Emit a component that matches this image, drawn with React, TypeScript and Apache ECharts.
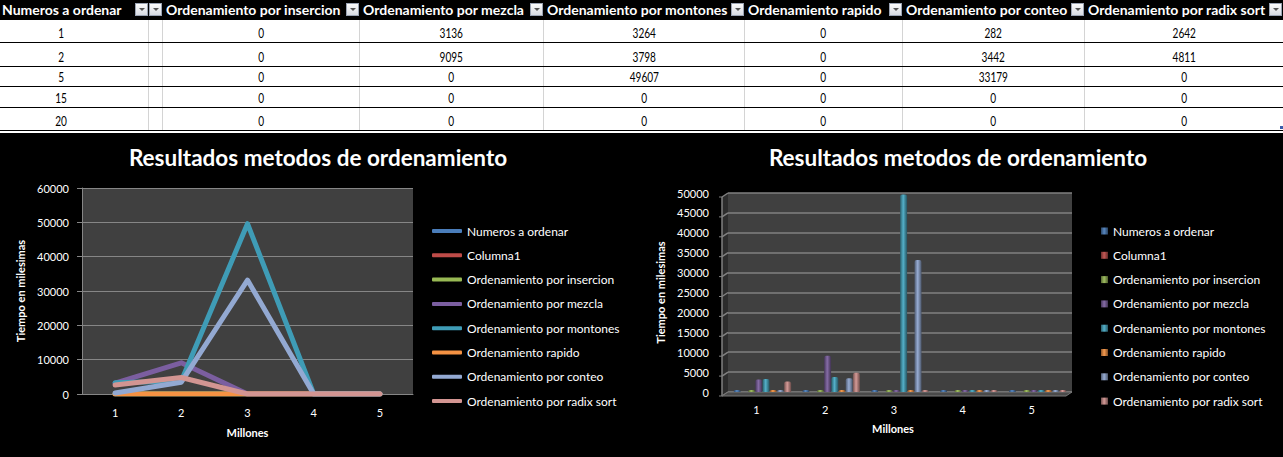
import React, { useEffect, useRef } from 'react';
import * as echarts from 'echarts';

// ---------- data ----------
const xLabels = ['1', '2', '3', '4', '5'];
const numerosAOrdenar = [1, 2, 5, 15, 20];
const columna1: (number | null)[] = [null, null, null, null, null];
const porInsercion = [0, 0, 0, 0, 0];
const porMezcla = [3136, 9095, 0, 0, 0];
const porMontones = [3264, 3798, 49607, 0, 0];
const rapido = [0, 0, 0, 0, 0];
const porConteo = [282, 3442, 33179, 0, 0];
const porRadix = [2642, 4811, 0, 0, 0];

const seriesNames = [
  'Numeros a ordenar',
  'Columna1',
  'Ordenamiento por insercion',
  'Ordenamiento por mezcla',
  'Ordenamiento por montones',
  'Ordenamiento rapido',
  'Ordenamiento por conteo',
  'Ordenamiento por radix sort',
];
const seriesData = [numerosAOrdenar, columna1, porInsercion, porMezcla, porMontones, rapido, porConteo, porRadix];

const tableHeaders = [
  'Numeros a ordenar',
  '',
  'Ordenamiento por insercion',
  'Ordenamiento por mezcla',
  'Ordenamiento por montones',
  'Ordenamiento rapido',
  'Ordenamiento por conteo',
  'Ordenamiento por radix sort',
];
const tableColumns: (number | null)[][] = [numerosAOrdenar, columna1, porInsercion, porMezcla, porMontones, rapido, porConteo, porRadix];

const chartTitle = 'Resultados metodos de ordenamiento';
const xAxisName = 'Millones';
const yAxisName = 'Tiempo en milesimas';
const lineAxisMax = 60000;
const lineAxisStep = 10000;
const barAxisMax = 50000;
const barAxisStep = 5000;

// ---------- styles ----------
const palette = ['#4F81BD', '#C0504D', '#9BBB59', '#8064A2', '#4BACC6', '#F79646', '#93A9D2', '#D39592'];
const linePalette = ['#4A7DBA', '#BE4B48', '#98B954', '#7B5EA0', '#3F9CB6', '#F59243', '#93A9D2', '#D39592'];
const colWidths = [149, 14, 197, 184, 201, 158, 182, 198];
const rowHeights = [22, 23, 19, 20, 22];
const FONT = 'Lato, "Open Sans", "DejaVu Sans", sans-serif';

function shade(hex: string, f: number): string {
  const n = parseInt(hex.slice(1), 16);
  let r = (n >> 16) & 255, g = (n >> 8) & 255, b = n & 255;
  const t = (c: number) => Math.round(f < 0 ? c * (1 + f) : c + (255 - c) * f);
  r = t(r); g = t(g); b = t(b);
  return '#' + [r, g, b].map((c) => c.toString(16).padStart(2, '0')).join('');
}

function barGradient(c: string) {
  return new echarts.graphic.LinearGradient(0, 0, 1, 0, [
    { offset: 0, color: shade(c, -0.45) },
    { offset: 0.45, color: shade(c, 0.05) },
    { offset: 1, color: shade(c, -0.5) },
  ]);
}

const white = '#ffffff';
const axisGray = '#868686';
const plainNumber = (v: number) => String(v);

function commonText(size: number, bold = false) {
  return { color: white, fontSize: size, fontWeight: bold ? 'bold' : 'normal', fontFamily: FONT } as any;
}

function lineOption(): any {
  return {
    animation: false,
    backgroundColor: '#000',
    textStyle: { fontFamily: FONT },
    title: { text: chartTitle, left: 318, top: 13, padding: 0, textAlign: 'center', textStyle: commonText(22.5, true) },
    legend: {
      orient: 'vertical', left: 432, top: 91, padding: 0, itemWidth: 30, itemHeight: 4, itemGap: 10.3,
      icon: 'roundRect', textStyle: { ...commonText(12), lineHeight: 14 }, data: seriesNames,
      selectedMode: false,
    },
    grid: { left: 82, top: 55, width: 331, height: 206, show: true, backgroundColor: '#404040', borderWidth: 0 },
    xAxis: {
      type: 'category', data: xLabels, boundaryGap: true,
      axisLine: { lineStyle: { color: axisGray } }, axisTick: { show: false },
      axisLabel: { ...commonText(11), margin: 13 },
      name: xAxisName, nameLocation: 'middle', nameGap: 33, nameTextStyle: commonText(11, true),
    },
    yAxis: {
      type: 'value', min: 0, max: lineAxisMax, interval: lineAxisStep,
      axisLine: { show: true, lineStyle: { color: axisGray } },
      axisTick: { show: true, length: 5, lineStyle: { color: axisGray } },
      splitLine: { lineStyle: { color: axisGray } },
      axisLabel: { ...commonText(11), margin: 13, formatter: plainNumber },
      name: yAxisName, nameLocation: 'middle', nameGap: 37, nameTextStyle: commonText(11, true),
    },
    series: seriesNames.map((n, i) => ({
      type: 'line', name: n, data: seriesData[i], symbol: 'none', showSymbol: false,
      lineStyle: { width: 5, color: linePalette[i], cap: 'round', join: 'round' },
      itemStyle: { color: linePalette[i] },
    })),
  };
}

const BL = 88, BR = 432, DX = 6, DY = 4;

function barOption(): any {
  return {
    animation: false,
    backgroundColor: '#000',
    textStyle: { fontFamily: FONT },
    title: { text: chartTitle, left: 318, top: 13, padding: 0, textAlign: 'center', textStyle: commonText(22.5, true) },
    legend: {
      orient: 'vertical', left: 461, top: 91, padding: 0, itemWidth: 7, itemHeight: 7, itemGap: 10.3,
      icon: 'rect', textStyle: { ...commonText(12), lineHeight: 14 }, data: seriesNames,
      selectedMode: false,
    },
    grid: { left: BL, top: 60, width: BR - BL, height: 199, show: true, backgroundColor: '#404040', borderWidth: 0 },
    xAxis: {
      type: 'category', data: xLabels, boundaryGap: true,
      axisLine: { show: false }, axisTick: { show: false },
      axisLabel: { ...commonText(11), margin: 12, padding: [0, 12, 0, 0] },
      name: xAxisName, nameLocation: 'middle', nameGap: 31,
      nameTextStyle: { ...commonText(11, true), padding: [0, 14, 0, 0] },
    },
    yAxis: {
      type: 'value', min: 0, max: barAxisMax, interval: barAxisStep,
      axisLine: { show: false }, axisTick: { show: false },
      splitLine: { lineStyle: { color: '#808080', width: 1.5 } },
      axisLabel: { ...commonText(11), margin: 19, padding: [8, 0, 0, 0], formatter: plainNumber },
      name: yAxisName, nameLocation: 'middle', nameGap: 44, nameTextStyle: commonText(11, true),
    },
    series: seriesNames.map((n, i) => ({
      type: 'bar', name: n, data: seriesData[i], barWidth: 7, barGap: '3%', barMinHeight: 2,
      itemStyle: { color: barGradient(palette[i]), borderRadius: [2, 2, 0, 0] },
    })),
  };
}

function decorate3D(chart: echarts.ECharts) {
  const yTop = chart.convertToPixel({ yAxisIndex: 0 }, barAxisMax) as unknown as number;
  const yBot = chart.convertToPixel({ yAxisIndex: 0 }, 0) as unknown as number;
  const els: any[] = [];
  els.push({
    type: 'polygon', silent: true, z: 0,
    shape: { points: [[BL - DX, yTop + DY], [BL, yTop], [BL, yBot], [BL - DX, yBot + DY]] },
    style: { fill: '#2c2c2c' },
  });
  for (let v = 0; v <= barAxisMax; v += barAxisStep) {
    const y = chart.convertToPixel({ yAxisIndex: 0 }, v) as unknown as number;
    els.push({ type: 'line', silent: true, z: 1, shape: { x1: BL - DX, y1: y + DY, x2: BL, y2: y }, style: { stroke: '#808080', lineWidth: 1.5 } });
    els.push({ type: 'line', silent: true, z: 1, shape: { x1: BL - DX - 3, y1: y + DY, x2: BL - DX, y2: y + DY }, style: { stroke: '#808080', lineWidth: 1 } });
  }
  els.push({ type: 'line', silent: true, z: 1, shape: { x1: BL - DX, y1: yTop + DY, x2: BL - DX, y2: yBot + DY }, style: { stroke: '#808080', lineWidth: 1.5 } });
  els.push({
    type: 'polygon', silent: true, z: 1,
    shape: { points: [[BL - DX, yBot + DY], [BL, yBot], [BR, yBot], [BR - DX, yBot + DY]] },
    style: { fill: '#4a4a4a', stroke: '#777777', lineWidth: 1 },
  });
  chart.setOption({ graphic: els });
}

function DropDown() {
  return (
    <div style={{
      position: 'absolute', right: 1, top: 3, width: 13, height: 13, boxSizing: 'border-box',
      border: '1px solid #9aa3b3', background: 'linear-gradient(#fbfbfb, #d7dbe3)',
    }}>
      <div style={{
        position: 'absolute', left: 3, top: 4, width: 0, height: 0,
        borderLeft: '3px solid transparent', borderRight: '3px solid transparent', borderTop: '3px solid #555',
      }} />
    </div>
  );
}

function Table() {
  return (
    <div style={{ position: 'absolute', left: 0, top: 0, width: 1283 }}>
      <div style={{ display: 'flex', height: 20, background: '#000' }}>
        {tableHeaders.map((h, i) => (
          <div key={i} style={{
            position: 'relative', width: colWidths[i], height: 20, color: white, fontFamily: FONT,
            fontWeight: 'bold', fontSize: 14, lineHeight: '20px', paddingLeft: i === 0 ? 2 : 3,
            boxSizing: 'border-box', whiteSpace: 'nowrap', overflow: 'hidden',
          }}>
            <span style={{ display: 'inline-block' }}>{h}</span>
            <DropDown />
          </div>
        ))}
      </div>
      {rowHeights.map((rh, r) => (
        <div key={r} style={{ display: 'flex', height: rh, background: '#fff', borderBottom: '1px solid #000' }}>
          {tableColumns.map((col, c) => (
            <div key={c} style={{
              width: colWidths[c], height: rh, boxSizing: 'border-box',
              borderRight: c < tableColumns.length - 1 ? '1px solid #d4d4d4' : 'none',
              display: 'flex', alignItems: 'flex-end', justifyContent: 'center',
              paddingRight: c === 0 ? 25 : 0, paddingBottom: 2,
              fontFamily: FONT, fontSize: 14, lineHeight: '14px', color: '#000',
            }}>
              <span style={{ display: 'inline-block', transform: 'scaleX(0.72)' }}>
                {c === 1 || col[r] === null ? '' : String(col[r])}
              </span>
            </div>
          ))}
        </div>
      ))}
      <div style={{ height: 2, background: '#fff' }} />
      <div style={{ position: 'absolute', right: 0, top: 126, width: 3, height: 3, background: '#3b5dab' }} />
    </div>
  );
}

export default function App() {
  const leftRef = useRef<HTMLDivElement>(null);
  const rightRef = useRef<HTMLDivElement>(null);

  useEffect(() => {
    document.body.style.margin = '0';
    document.body.style.background = '#000';
    const left = echarts.init(leftRef.current!, undefined, { renderer: 'svg' });
    left.setOption(lineOption());
    const right = echarts.init(rightRef.current!, undefined, { renderer: 'svg' });
    right.setOption(barOption());
    decorate3D(right);
    return () => {
      left.dispose();
      right.dispose();
    };
  }, []);

  return (
    <div style={{ position: 'absolute', left: 0, top: 0, width: 1283, height: 457, background: '#000', overflow: 'hidden' }}>
      <Table />
      <div ref={leftRef} style={{ position: 'absolute', left: 0, top: 133, width: 640, height: 324 }} />
      <div ref={rightRef} style={{ position: 'absolute', left: 640, top: 133, width: 643, height: 324 }} />
    </div>
  );
}
